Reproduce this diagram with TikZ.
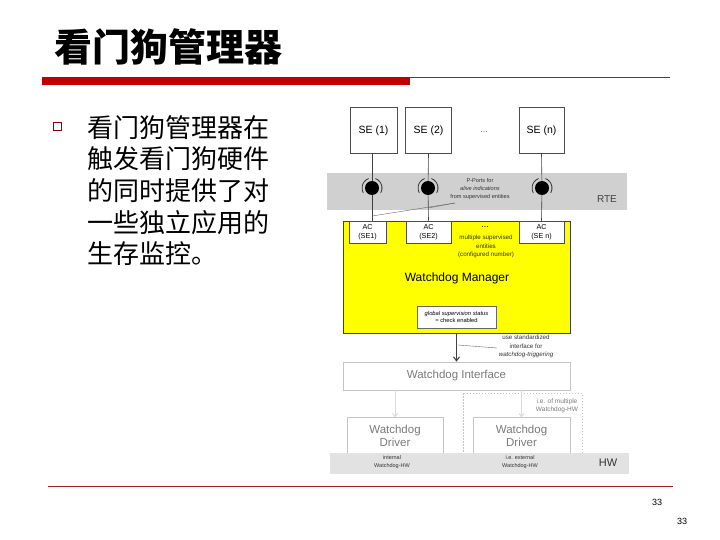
\documentclass[tikz,border=0pt]{standalone}
\usepackage{fontspec}
\setmainfont{Liberation Sans}
\newfontfamily\cjk{Noto Sans CJK SC}
\usetikzlibrary{arrows.meta}
\definecolor{barred}{HTML}{C00000}
\definecolor{linered}{HTML}{A02020}
\definecolor{rtegray}{HTML}{D0D0D0}
\definecolor{hwgray}{HTML}{E2E2E2}
\definecolor{wmyellow}{HTML}{FFFF00}
\definecolor{softgray}{HTML}{C4C4C4}
\definecolor{textgray}{HTML}{7A7A7A}
\tikzset{
  sebox/.style={draw=black!70, fill=white, line width=0.5pt, inner sep=0pt, minimum height=46pt, font=\fontsize{10.5}{12}\selectfont},
  acbox/.style={draw=black!70, fill=white, line width=0.5pt, inner sep=0pt, minimum height=22pt, align=center, font=\fontsize{7.2}{9.5}\selectfont},
  small/.style={inner sep=0pt, align=center, text=black!80, font=\fontsize{6}{8.3}\selectfont},
  drvbox/.style={draw=softgray, fill=white, line width=0.5pt, inner sep=0pt, minimum width=96pt, minimum height=37pt, align=center, text=textgray, font=\fontsize{11.5}{13.4}\selectfont},
  ball/.style={circle, fill=black, inner sep=0pt, minimum size=14pt},
  conn/.style={draw=black!75, line width=0.6pt},
  leader/.style={draw=black!60, line width=0.4pt},
}
\begin{document}
\begin{tikzpicture}[x=1pt,y=-1pt]
\useasboundingbox (0,0) rectangle (720,540);
% title
\node[anchor=west, inner sep=0pt, font=\cjk\bfseries\fontsize{38}{42}\selectfont] (title) at (54,47) {看门狗管理器};
\fill[barred] (42,77.5) rectangle (410,85.5);
\draw[linered, line width=0.6pt] (410,77.8) -- (670,77.8);
% bullet
\node[draw=barred!70!black, line width=1.3pt, fill=white, minimum size=8pt, inner sep=0pt] (bul) at (57.5,126.5) {};
\node[anchor=north west, inner sep=0pt, align=left, font=\cjk\fontsize{26}{31.7}\selectfont] (body) at (87,115)
  {看门狗管理器在\\触发看门狗硬件\\的同时提供了对\\一些独立应用的\\生存监控。};
% RTE band
\fill[rtegray] (327,173) rectangle (627,210);
\node[font=\fontsize{10}{12}\selectfont, text=black!75] (rte) at (607,199) {RTE};
% yellow manager
\node[draw=black!75, fill=wmyellow, line width=0.6pt, minimum width=227pt, minimum height=112pt, inner sep=0pt] (wm) at (456.5,277) {};
\node[font=\fontsize{12}{14}\selectfont] (wmt) at (457,278) {Watchdog Manager};
% SE boxes
\node[sebox, minimum width=47pt] (se1) at (373.5,130.5) {SE (1)};
\node[sebox, minimum width=46pt] (se2) at (428.5,130.5) {SE (2)};
\node[sebox, minimum width=45pt] (sen) at (541.5,130.5) {SE (n)};
\node[font=\fontsize{9}{10}\selectfont, text=black!60] (dots1) at (484,132) {...};
% AC boxes
\node[acbox, minimum width=37pt] (ac1) at (367.5,232) {AC\\(SE1)};
\node[acbox, minimum width=45pt] (ac2) at (428.5,232) {AC\\(SE2)};
\node[acbox, minimum width=45pt] (acn) at (541.5,232) {AC\\(SE n)};
% balls
\node[ball] (b1) at (372,188) {};
\node[ball] (b2) at (428,188) {};
\node[ball] (bn) at (542,188) {};
\foreach \b in {b1,b2,bn}{
  \draw[black!80, line width=0.8pt] ([shift={(110:10pt)}]\b.center) arc[start angle=110, end angle=210, radius=10pt];
  \draw[black!80, line width=0.8pt] ([shift={(70:10pt)}]\b.center) arc[start angle=70, end angle=-30, radius=10pt];
}
\draw[conn] (se1.south -| b1) -- (b1);
\draw[conn] (b1) -- (b1 |- ac1.north);
\draw[conn] (se2.south) -- (b2);
\draw[conn] (b2) -- (ac2.north);
\draw[conn] (sen.south) -- (bn);
\draw[conn] (bn) -- (acn.north);
% P-Ports text
\node[small, font=\fontsize{5.6}{8.4}\selectfont] (pp) at (480,189) {P-Ports for\\\textit{alive indications}\\from supervised entities};
\coordinate (ppa) at (455,203);
\coordinate (l1) at (372,216);
\coordinate (l2) at (428,208);
\draw[leader] (ppa) -- (l1);
\draw[leader] (ppa) -- (l2);
% multiple supervised
\node[font=\fontsize{9}{10}\selectfont] (dots2) at (485,227) {...};
\node[small, font=\fontsize{6.2}{8.3}\selectfont] (mse) at (486,246.5) {multiple supervised\\entities\\(configured number)};
% global status
\node[draw=black!60, fill=white, line width=0.5pt, minimum width=79pt, minimum height=22pt, inner sep=0pt, align=center, font=\fontsize{5.8}{7.5}\selectfont] (gs) at (456.5,317) {\textit{global supervision status}\\= check enabled};
% watchdog interface
\node[draw=softgray, fill=white, line width=0.6pt, minimum width=227pt, minimum height=28pt, inner sep=0pt, text=textgray, font=\fontsize{11.5}{13}\selectfont] (wi) at (456.5,376) {Watchdog Interface};
\draw[draw=black!75, line width=1.1pt, -{Straight Barb[length=4pt,width=6pt]}] (wm.south) -- (wi.north);
\coordinate (usa) at (497,348);
\coordinate (usb) at (458,345);
\draw[leader] (usa) -- (usb);
\node[small, font=\fontsize{6.2}{8.5}\selectfont] (use) at (526,346.5) {use standardized\\interface for\\\textit{watchdog-triggering}};
% dashed region
\draw[softgray, dashed, dash pattern=on 1.5pt off 1.5pt, line width=0.5pt] (463,393) rectangle (582,455);
\node[small, text=textgray, font=\fontsize{6.5}{8.5}\selectfont] (ieo) at (557,406) {i.e. of multiple\\Watchdog-HW};
% drivers
\node[drvbox] (d1) at (395,436) {Watchdog\\Driver};
\node[drvbox, minimum width=97pt] (d2) at (521.5,436) {Watchdog\\Driver};
\draw[draw=black!15, line width=1pt, -{Straight Barb[length=3pt,width=5pt]}] (wi.south -| d1) -- (d1.north);
\draw[draw=black!15, line width=1pt, -{Straight Barb[length=3pt,width=5pt]}] (wi.south -| d2) -- (d2.north);
% HW band
\fill[hwgray] (330,453) rectangle (629,474);
\node[font=\fontsize{11}{13}\selectfont, text=black!80] (hw) at (608,463) {HW};
\node[small, font=\fontsize{5.5}{8}\selectfont] (ihw) at (392,462) {internal\\Watchdog-HW};
\node[small, font=\fontsize{5.5}{8}\selectfont] (ehw) at (520,462) {i.e. external\\Watchdog-HW};
% footer
\draw[linered, line width=0.8pt] (48,486.5) -- (673,486.5);
\node[font=\fontsize{9}{10}\selectfont] (p1) at (657,502) {33};
\node[font=\fontsize{9}{10}\selectfont] (p2) at (682,521) {33};
\end{tikzpicture}
\end{document}
